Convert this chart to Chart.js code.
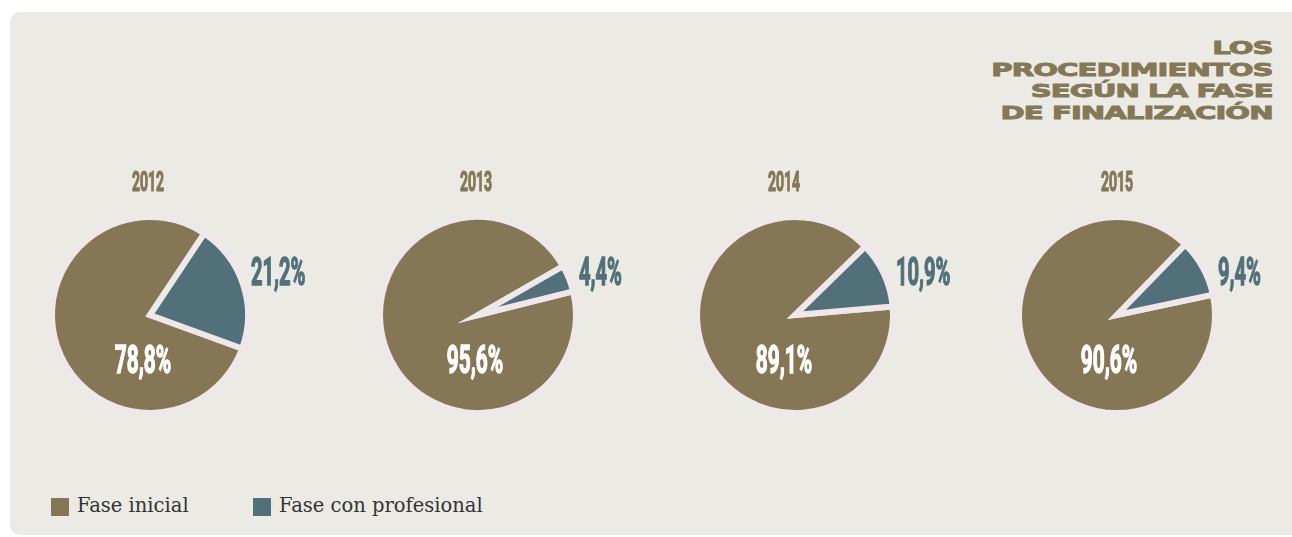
<!DOCTYPE html>
<html>
<head>
<meta charset="utf-8">
<script src="https://cdn.jsdelivr.net/npm/chart.js@4.4.1/dist/chart.umd.min.js"></script>
<style>
    body { margin: 0; background: #ffffff; width: 1292px; height: 537px; overflow: hidden; position: relative; }
    #panel { position: absolute; left: 10px; top: 12px; width: 1310px; height: 523px; background: #ECEAE5; border-radius: 10px; }
    #title { position: absolute; right: 19px; top: 37px; font-family: 'DejaVu Sans', sans-serif; font-weight: 700; font-size: 18px; line-height: 21.5px; color: #857857; text-align: right; letter-spacing: -0.6px; -webkit-text-stroke: 0.9px #857857; }
    #title div { transform: scaleX(1.62); transform-origin: right center; white-space: nowrap; }
    canvas { position: absolute; }
    #legend { position: absolute; left: 51px; top: 498px; font-family: 'DejaVu Serif', serif; font-size: 19.5px; color: #333333; }
    .item { position: absolute; top: 0; white-space: nowrap; }
    .box { position: absolute; left: 0; top: 0; width: 18px; height: 18px; }
    .txt { position: absolute; left: 26px; top: -4px; }
</style>
</head>
<body>
<div id="panel"></div>
<div id="title">
    <div>LOS</div>
    <div>PROCEDIMIENTOS</div>
    <div>SEGÚN LA FASE</div>
    <div>DE FINALIZACIÓN</div>
</div>
<div id="legend"></div>

<script>
// Data

const years = ['2012', '2013', '2014', '2015'];
const faseInicial = [78.8, 95.6, 89.1, 90.6];
const faseProfesional = [21.2, 4.4, 10.9, 9.4];
const seriesNames = ['Fase inicial', 'Fase con profesional'];

// Style / layout

const colors = ['#857756', '#52707A'];
const titleColor = '#857857';
const pieCenters = [150, 478, 795, 1117];   // x of each pie centre
const rotations = [110, 76, 85, 78];        // where the blue slice ends
const yearDx = [-2, -2, -11, 0];
const innerDx = [-7, -3, -11, -8];

function fmt(v) {
    return v.toFixed(1).replace('.', ',') + '%';
}

// condensed heavy text: squeeze horizontally, thicken with a stroke
function drawSqueezed(ctx, text, x, y, font, color, align, sx, weight) {
    ctx.save();
    ctx.translate(x, y);
    ctx.scale(sx, 1);
    ctx.font = font;
    ctx.fillStyle = color;
    ctx.strokeStyle = color;
    ctx.lineWidth = weight;
    ctx.lineJoin = 'miter';
    ctx.textAlign = align;
    ctx.textBaseline = 'alphabetic';
    ctx.fillText(text, 0, 0);
    ctx.strokeText(text, 0, 0);
    ctx.restore();
}

// draws year on top, big % inside, small % outside
const labelPlugin = {
    id: 'pctLabels',
    afterDatasetsDraw(chart, args, opts) {
        const ctx = chart.ctx;
        const arc = chart.getDatasetMeta(0).data[0];
        const values = chart.data.datasets[0].data;
        const cx = arc.x;
        const cy = arc.y;
        const r = arc.outerRadius;
        drawSqueezed(ctx, opts.year, cx + opts.yearDx, cy - 124, '700 27px Roboto', titleColor, 'center', 0.52, 1.2);
        drawSqueezed(ctx, fmt(values[0]), cx + opts.innerDx, cy + 57.5, '700 38px Roboto', '#ffffff', 'center', 0.55, 1.4);
        drawSqueezed(ctx, fmt(values[1]), cx + r + 3, cy - 30.5, '700 38px Roboto', colors[1], 'left', 0.53, 1.4);
    }
};

// Charts

const charts = [];

years.forEach(function (year, i) {
    const canvas = document.createElement('canvas');
    canvas.width = 290;
    canvas.height = 260;
    canvas.style.left = (pieCenters[i] - 120) + 'px';
    canvas.style.top = '160px';
    document.body.appendChild(canvas);

    const config = {
        type: 'pie',
        data: {
            labels: seriesNames,
            datasets: [{
                data: [faseInicial[i], faseProfesional[i]],
                backgroundColor: colors,
                borderColor: '#EFE7EA',
                borderWidth: 6,
                borderJoinStyle: 'miter',
            }],
        },
        options: {
            responsive: false,
            animation: false,
            rotation: rotations[i],
            layout: {
                padding: { left: 19, right: 69, top: 54, bottom: 4 }
            },
            plugins: {
                legend: { display: false },
                tooltip: { enabled: false },
                pctLabels: { year: year, yearDx: yearDx[i], innerDx: innerDx[i] }
            }
        },
        plugins: [labelPlugin]
    };

    charts.push(new Chart(canvas.getContext('2d'), config));
});

// Legend

const legend = document.getElementById('legend');
const legendX = [0, 202];
seriesNames.forEach(function (name, i) {
    const item = document.createElement('div');
    item.className = 'item';
    item.style.left = legendX[i] + 'px';
    item.innerHTML = '<div class="box" style="background:' + colors[i] + '"></div><div class="txt">' + name + '</div>';
    legend.appendChild(item);
});
</script>
</body>
</html>
